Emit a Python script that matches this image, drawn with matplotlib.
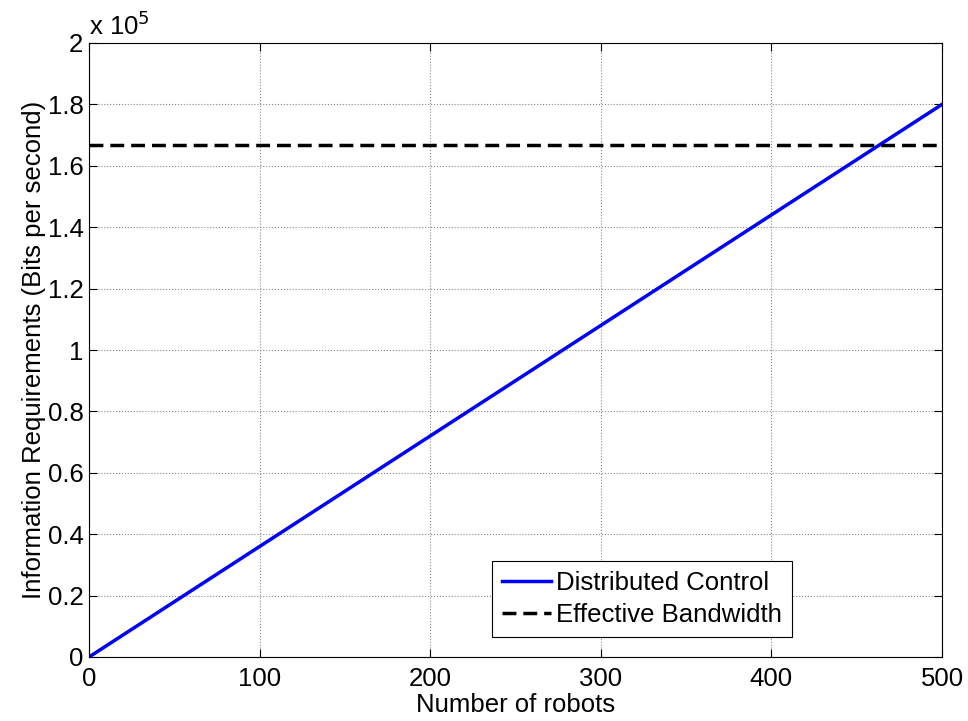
import matplotlib
matplotlib.use('Agg')
import matplotlib.pyplot as plt

# Data
robots = [0, 500]
info_bits = [0, 180000]
bandwidth = 166700
x_ticks = [0, 100, 200, 300, 400, 500]
y_ticks = [0, 0.2, 0.4, 0.6, 0.8, 1, 1.2, 1.4, 1.6, 1.8, 2]

plt.rcParams['font.family'] = ['Liberation Sans', 'DejaVu Sans']

fig = plt.figure(figsize=(9.68, 7.21), dpi=100)
ax = fig.add_axes([89 / 968, 1 - 657 / 721, (942 - 89) / 968, (657 - 43) / 721])

ax.plot(robots, info_bits, color='#0000ff', linewidth=2.5, label='Distributed Control')
ax.axhline(bandwidth, color='black', linestyle=(0, (4, 2)), linewidth=2.5, label='Effective Bandwidth')

ax.set_xlim(0, 500)
ax.set_ylim(0, 2e5)
ax.set_xticks(x_ticks)
ax.set_xticklabels([str(t) for t in x_ticks])
ax.set_yticks([v * 1e5 for v in y_ticks])
ax.set_yticklabels(['%g' % v for v in y_ticks])
ax.tick_params(labelsize=18.5, direction='in', length=6, top=True, right=True)
ax.tick_params(axis='x', pad=7)
ax.tick_params(axis='y', pad=4)
ax.grid(True, linestyle=':', color='#888888', linewidth=0.8)

ax.text(0, 1.005, r'x 10$^5$', transform=ax.transAxes, fontsize=18.5, ha='left', va='bottom')

ax.set_xlabel('Number of robots', fontsize=18.5, labelpad=2)
ax.set_ylabel('Information Requirements (Bits per second)', fontsize=18.5, labelpad=1)

leg = ax.legend(loc='lower right', bbox_to_anchor=((792 - 89) / 853, (657 - 637) / 614),
                fontsize=18.5, fancybox=False, framealpha=1, edgecolor='black',
                handlelength=1.9, handletextpad=0.2, borderpad=0.4, labelspacing=0.3,
                borderaxespad=0)
leg.get_frame().set_linewidth(0.8)

for s in ax.spines.values():
    s.set_linewidth(0.8)

fig.savefig('out.png', dpi=100)
